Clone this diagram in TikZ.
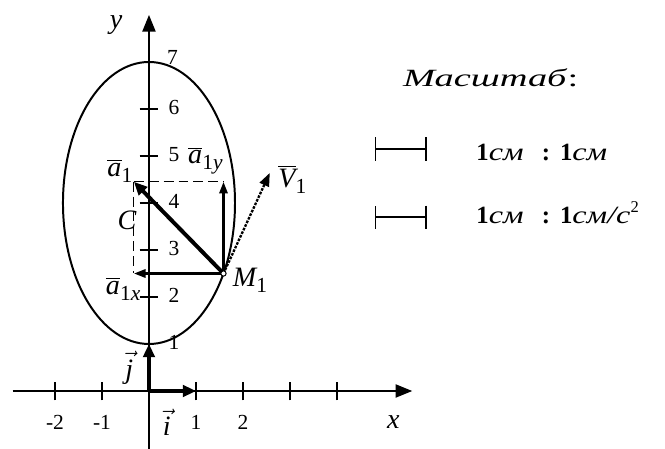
\documentclass[tikz,border=0pt]{standalone}
\usepackage{fontspec}
\setmainfont{Liberation Serif}
\newfontfamily\wideit[FakeStretch=1.3]{Liberation Serif}
\newfontfamily\titleit[FakeStretch=1.55]{Liberation Serif}
\usepackage{tikz}
\usetikzlibrary{arrows.meta,positioning}
\newcommand{\ovec}[2]{$\overline{\mbox{\itshape #1}}$\raisebox{-0.5ex}{\upshape\fontsize{13}{15}\selectfont #2}}
\newcommand{\uvec}[1]{$\vec{\mbox{\itshape #1}}$}
\tikzset{
    axis/.style = {line width=0.7pt, -{Triangle[length=10pt,width=8pt]}},
    tickmark/.style = {line width=0.7pt},
    orbit/.style = {line width=1.2pt},
    accel/.style = {line width=2.4pt, -{Triangle[length=8pt,width=7pt]}},
    component/.style = {line width=1.4pt, -{Triangle[length=7pt,width=5pt]}},
    velocity/.style = {line width=1.4pt, dash pattern=on 1.6pt off 0.8pt, -{Triangle[length=8pt,width=6pt]}},
    unitvec/.style = {line width=2.4pt, -{Triangle[length=8pt,width=7pt]}},
    helper/.style = {line width=0.6pt, dash pattern=on 6pt off 3pt},
    scalebar/.style = {line width=0.8pt, {Bar[width=14pt]}-{Bar[width=14pt]}},
    txt/.style = {font=\fontsize{13}{15}\selectfont, inner sep=1pt},
    itxt/.style = {font=\fontsize{17}{19}\selectfont\itshape, inner sep=0pt}
}
\begin{document}
\begin{tikzpicture}[x=1cm, y=1cm]
    \useasboundingbox (-3.17,-1.213) rectangle (10.979,8.319);

    % Points
    \coordinate (O) at (0,0);
    \coordinate (C) at (0,4);
    \coordinate (M) at (1.585,2.5);
    \coordinate (A) at (-0.32,4.45);
    \coordinate (Ax) at (-0.32,2.5);
    \coordinate (Ay) at (1.585,4.45);
    \coordinate (V) at (2.57,4.64);
    \coordinate (I) at (1,0);
    \coordinate (J) at (0,1);

    % Axes
    \coordinate (xl) at (-2.9,0);
    \coordinate (xr) at (5.6,0);
    \coordinate (yb) at (0,-1.25);
    \coordinate (yt) at (0,8);
    \draw [axis] (xl) -- (xr);
    \draw [axis] (yb) -- (yt);
    \foreach \x in {-2,-1,1,2,3,4}
        \draw [tickmark] (\x,-0.2) -- (\x,0.2);
    \foreach \y in {2,3,4,5,6}
        \draw [tickmark] (-0.2,\y) -- (0.2,\y);
    \foreach \x in {-2,-1,1,2}
        \node [txt] (xt\x) at (\x,-0.66) {\x};
    \foreach \y in {1,...,6}
        \node [txt] (yt\y) at (0.53,\y+0.03) {\y};
    \node [txt] (yt7) at (0.5,7.1) {7};
    \node [itxt] (xname) at (5.2,-0.66) {x};
    \node [itxt] (yname) at (-0.70,7.79) {y};

    % Trajectory
    \draw [orbit] (C) ellipse [x radius=1.83, y radius=3];

    % Unit vectors
    \draw [unitvec] (O) -- (I);
    \draw [unitvec] (O) -- (J);
    \node [itxt] (ilab) at (0.38,-0.66) {\uvec{i}};
    \node [itxt] (jlab) at (-0.42,0.49) {\uvec{j}};

    % Acceleration and velocity
    \draw [helper] (A) -- (Ay);
    \draw [helper] (A) -- (Ax);
    \draw [component] (M) -- (Ax);
    \draw [component] (M) -- (Ay);
    \draw [accel] (M) -- (A);
    \draw [velocity] (M) -- (V);
    \draw [line width=0.6pt, fill=white] (M) circle (1.6pt);

    \node [itxt] (alab) at (-0.62,4.68) {\ovec{a}{1}};
    \node [itxt] (aylab) at (1.2,4.9) {\ovec{a}{1\itshape y}};
    \node [itxt] (axlab) at (-0.55,2.17) {\ovec{a}{1\itshape x}};
    \node [itxt] (vlab) at (3.05,4.5) {\ovec{V}{1}};
    \node [itxt] (mlab) at (2.15,2.35) {M\raisebox{-0.5ex}{\upshape\fontsize{13}{15}\selectfont 1}};
    \node [itxt] (clab) at (-0.47,3.64) {C};

    % Scale
    \node [anchor=base west, inner sep=0pt, font=\fontsize{15}{17}\selectfont] (title) at (5.40,6.47) {\titleit\itshape Масштаб\textup{:}};
    \coordinate (b1l) at (4.81,5.15);
    \coordinate (b1r) at (5.91,5.15);
    \coordinate (b2l) at (4.81,3.70);
    \coordinate (b2r) at (5.91,3.70);
    \draw [scalebar] (b1l) -- (b1r);
    \draw [scalebar] (b2l) -- (b2r);
    \node [anchor=base west, inner sep=0pt, font=\fontsize{15}{17}\selectfont] (s1) at (6.96,4.91) {\textbf{1}{\wideit\itshape см}\hspace{11pt}\textbf{:}\hspace{6pt}\textbf{1}{\wideit\itshape см}};
    \node [anchor=base west, inner sep=0pt, font=\fontsize{15}{17}\selectfont] (s2) at (6.96,3.57) {\textbf{1}{\wideit\itshape см}\hspace{11pt}\textbf{:}\hspace{6pt}\textbf{1}{\wideit\itshape см/с}\raisebox{0.9ex}{\fontsize{10}{12}\selectfont 2}};
\end{tikzpicture}
\end{document}
